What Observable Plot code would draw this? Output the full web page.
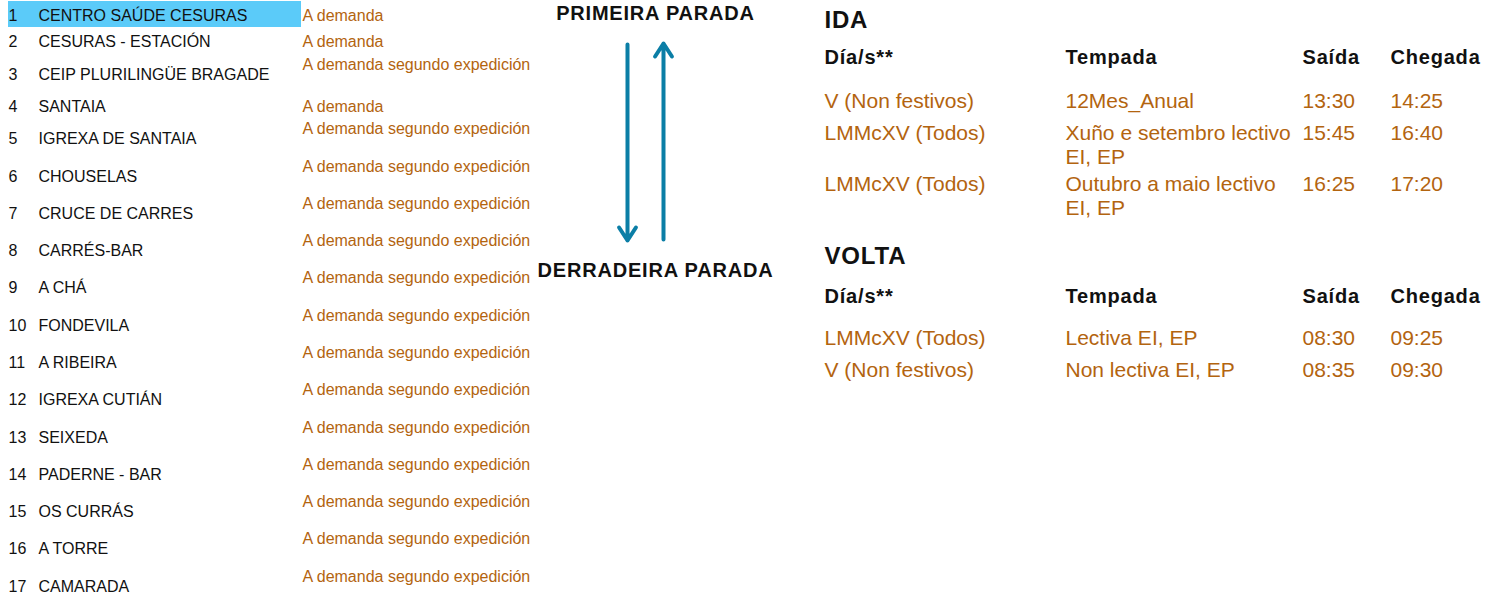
<!DOCTYPE html>
<html>
<head>
<meta charset="utf-8">
<script src="https://cdn.jsdelivr.net/npm/d3@7"></script>
<script src="https://cdn.jsdelivr.net/npm/@observablehq/plot@0.6"></script>
<style>
  html, body { margin: 0; padding: 0; background: #ffffff; }
  #page { position: relative; width: 1498px; height: 595px; overflow: hidden; background: #ffffff; }
  #page svg { position: absolute; top: 0; }
  g[font-weight="bold"] text { letter-spacing: 0.8px; }
</style>
</head>
<body>
<div id="page"></div>
<script>
// ---------- DATA ----------
const stopNumbers = [1, 2, 3, 4, 5, 6, 7, 8, 9, 10, 11, 12, 13, 14, 15, 16, 17];
const stopNames = [
  "CENTRO SAÚDE CESURAS", "CESURAS - ESTACIÓN", "CEIP PLURILINGÜE BRAGADE", "SANTAIA",
  "IGREXA DE SANTAIA", "CHOUSELAS", "CRUCE DE CARRES", "CARRÉS-BAR", "A CHÁ",
  "FONDEVILA", "A RIBEIRA", "IGREXA CUTIÁN", "SEIXEDA", "PADERNE - BAR",
  "OS CURRÁS", "A TORRE", "CAMARADA"
];
const stopNotes = [
  "A demanda", "A demanda", "A demanda segundo expedición", "A demanda",
  "A demanda segundo expedición", "A demanda segundo expedición", "A demanda segundo expedición",
  "A demanda segundo expedición", "A demanda segundo expedición", "A demanda segundo expedición",
  "A demanda segundo expedición", "A demanda segundo expedición", "A demanda segundo expedición",
  "A demanda segundo expedición", "A demanda segundo expedición", "A demanda segundo expedición",
  "A demanda segundo expedición"
];
const selectedStop = 1;

const endpoints = ["PRIMEIRA PARADA", "DERRADEIRA PARADA"];
const directions = ["IDA", "VOLTA"];

const columnHeaders = ["Día/s**", "Tempada", "Saída", "Chegada"];
const idaDias = ["V (Non festivos)", "LMMcXV (Todos)", "LMMcXV (Todos)"];
const idaTempadas = ["12Mes_Anual", "Xuño e setembro lectivo EI, EP", "Outubro a maio lectivo EI, EP"];
const idaSaidas = ["13:30", "15:45", "16:25"];
const idaChegadas = ["14:25", "16:40", "17:20"];
const voltaDias = ["LMMcXV (Todos)", "V (Non festivos)"];
const voltaTempadas = ["Lectiva EI, EP", "Non lectiva EI, EP"];
const voltaSaidas = ["08:30", "08:35"];
const voltaChegadas = ["09:25", "09:30"];

// ---------- LAYOUT / STYLE ----------
const FONT = '"Liberation Sans", Arial, Helvetica, sans-serif';
const ORANGE = "#B3640F";
const INK = "#111111";
const BLUE = "#0B7EA6";
const HIGHLIGHT = "#5BCBF9";
const page = document.getElementById("page");

// spreadsheet-like row layout (row index -> vertical position), piecewise linear
const stopRowLayout = d3.scaleLinear().domain([1, 2, 3, 4, 5, 6, 17]).range([15, 41, 74, 106, 138, 176, 586]);
const tableRowLayout = d3.scaleLinear().domain([0, 1, 2, 3, 4, 5, 6, 7, 8]).range([20, 57, 101, 133, 184, 256, 296, 338, 370]);

// ---------- LEFT: stop list ----------
const stops = stopNumbers.map((n, i) => ({n, name: stopNames[i], note: stopNotes[i]}));
const leftPlot = Plot.plot({
  width: 537, height: 595, margin: 0,
  style: {fontFamily: FONT, background: "transparent", overflow: "hidden"},
  y: {axis: null, transform: stopRowLayout, domain: [0, 595], range: [0, 595]},
  marks: [
    Plot.ruleY(stops.filter(d => d.n === selectedStop), {y: "n", stroke: HIGHLIGHT, strokeWidth: 26, dy: -1.5, insetLeft: 8, insetRight: 236}),
    Plot.text(stops, {y: "n", text: d => String(d.n), frameAnchor: "left", textAnchor: "start", dx: 8, fontSize: 16, fill: INK}),
    Plot.text(stops, {y: "n", text: "name", frameAnchor: "left", textAnchor: "start", dx: 38, fontSize: 16, fill: INK}),
    Plot.text(stops, {filter: d => d.note === "A demanda", y: "n", text: "note", frameAnchor: "left", textAnchor: "start", dx: 302, fontSize: 16, fill: ORANGE}),
    Plot.text(stops, {filter: d => d.note !== "A demanda", y: "n", text: "note", frameAnchor: "left", textAnchor: "start", dx: 302, dy: -10, fontSize: 16, fill: ORANGE})
  ]
});
leftPlot.style.left = "0px";
page.appendChild(leftPlot);

// ---------- MIDDLE: direction arrows ----------
const arrowsData = directions.map((dir, i) => ({
  dir,
  from: i === 0 ? endpoints[0] : endpoints[1],
  to: i === 0 ? endpoints[1] : endpoints[0]
}));
const midPlot = Plot.plot({
  width: 260, height: 290, marginLeft: 0, marginRight: 24, marginTop: 0, marginBottom: 0,
  style: {fontFamily: FONT, background: "transparent", overflow: "hidden"},
  x: {type: "point", axis: null, domain: directions, range: [90, 126], padding: 0},
  y: {type: "point", axis: null, domain: endpoints, range: [13, 270], padding: 0},
  marks: [
    Plot.arrow(arrowsData, {x1: "dir", x2: "dir", y1: "from", y2: "to", stroke: BLUE, strokeWidth: 4, headLength: 5.8, headAngle: 66, insetStart: 31, insetEnd: 30}),
    Plot.text(endpoints, {y: d => d, text: d => d, fontWeight: "bold", fontSize: 20, fill: INK})
  ]
});
midPlot.style.left = "537px";
page.appendChild(midPlot);

// ---------- RIGHT: timetable ----------
const mkTrips = (dias, tempadas, saidas, chegadas) =>
  dias.map((dia, i) => ({dia, tempada: tempadas[i], saida: saidas[i], chegada: chegadas[i]}));
const sectionTrips = [
  mkTrips(idaDias, idaTempadas, idaSaidas, idaChegadas),
  mkTrips(voltaDias, voltaTempadas, voltaSaidas, voltaChegadas)
];
const titleRows = [], headerRows = [], tripRows = [];
let slot = 0;
directions.forEach((section, s) => {
  titleRows.push({slot: slot++, label: section});
  headerRows.push({slot: slot++});
  for (const t of sectionTrips[s]) tripRows.push({slot: slot++, ...t});
});
const fields = ["dia", "tempada", "saida", "chegada"];
const colOffsets = [14, 255, 492, 580];

const rightPlot = Plot.plot({
  width: 688, height: 400, margin: 0,
  style: {fontFamily: FONT, background: "transparent", overflow: "visible"},
  y: {axis: null, transform: tableRowLayout, domain: [0, 400], range: [0, 400]},
  marks: [
    Plot.text(titleRows, {y: "slot", text: "label", frameAnchor: "left", textAnchor: "start", dx: colOffsets[0], fontWeight: "bold", fontSize: 24, fill: INK}),
    ...fields.map((f, j) => Plot.text(headerRows, {y: "slot", text: () => columnHeaders[j], frameAnchor: "left", textAnchor: "start", dx: colOffsets[j], fontWeight: "bold", fontSize: 20, fill: INK})),
    ...fields.map((f, j) => Plot.text(tripRows, {
      y: "slot", text: f, frameAnchor: "left", textAnchor: "start", dx: colOffsets[j],
      lineAnchor: "top", dy: -10.5, lineHeight: 1.14, lineWidth: f === "tempada" ? 12 : Infinity,
      fontSize: 21, fill: ORANGE
    }))
  ]
});
rightPlot.style.left = "810px";
page.appendChild(rightPlot);
</script>
</body>
</html>
